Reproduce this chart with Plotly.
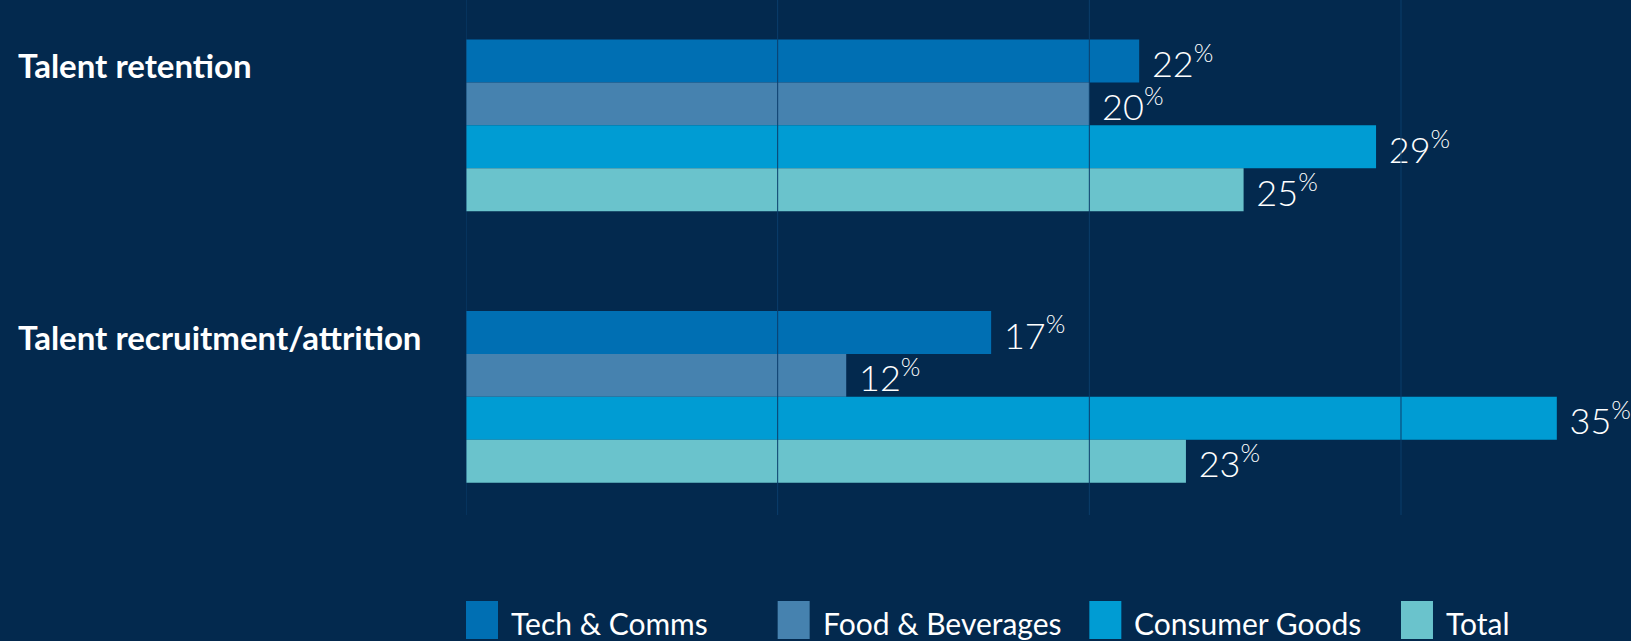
import plotly.graph_objects as go

categories = ["Talent retention", "Talent recruitment/attrition"]
series_names = ["Tech & Comms", "Food & Beverages", "Consumer Goods", "Total"]
tech_comms = [21.6, 16.85]
food_bev = [20.0, 12.2]
consumer_goods = [29.2, 35.0]
total = [24.95, 23.1]
grid_vals = [0, 10, 20, 30]

series_values = [tech_comms, food_bev, consumer_goods, total]
colors = ["#006FB3", "#4682AF", "#009CD3", "#6AC3CC"]
BG = "#03294E"
GRID = "#0B3E6C"

fig = go.Figure()
for name, vals, col in zip(series_names, series_values, colors):
    fig.add_trace(go.Bar(
        name=name, y=categories, x=vals, orientation="h",
        marker=dict(color=col, line=dict(width=0)),
        texttemplate="\u00a0%{x:.0f}<sup>%</sup>",
        textposition="outside", constraintext="none", cliponaxis=False,
        textfont=dict(family="Lato", size=36, color="white", weight=300),
        hoverinfo="skip",
    ))

shapes = []
for v in grid_vals:
    shapes.append(dict(type="line", xref="x", yref="paper", x0=v, x1=v, y0=0, y1=1,
                       layer="above", line=dict(color=GRID, width=1)))

annotations = []
for v, name, col in zip(grid_vals, series_names, colors):
    shapes.append(dict(type="rect", xref="x", xsizemode="pixel", xanchor=v, x0=0, x1=32,
                       yref="paper", ysizemode="pixel", yanchor=0, y0=-124, y1=-86,
                       fillcolor=col, line=dict(width=0), layer="above"))
    annotations.append(dict(text=name, xref="x", x=v, xanchor="left", xshift=43,
                            yref="paper", y=0, yanchor="middle", yshift=-108,
                            showarrow=False,
                            font=dict(family="Lato", size=30, color="white")))

for c in categories:
    annotations.append(dict(text="<b>" + c + "</b>", xref="paper", x=0, xanchor="left", xshift=-450,
                            yref="y", y=c, yanchor="middle", yshift=60,
                            showarrow=False,
                            font=dict(family="Lato", size=33, color="white")))

fig.update_layout(
    width=1631, height=641,
    margin=dict(l=466, r=0, t=0, b=126),
    paper_bgcolor=BG, plot_bgcolor=BG,
    barmode="group", bargap=0.368, bargroupgap=0,
    showlegend=False,
    xaxis=dict(range=[0, 37.38], showgrid=False, zeroline=False, showticklabels=False,
               showline=False, ticks=""),
    yaxis=dict(type="category", range=[1.435, -0.4615], showgrid=False, zeroline=False,
               showticklabels=False, showline=False, ticks=""),
    shapes=shapes, annotations=annotations,
)

fig.write_html("out.html", config={"displayModeBar": False},
               post_script="document.body.style.margin='0';document.body.style.background='" + BG + "';")
